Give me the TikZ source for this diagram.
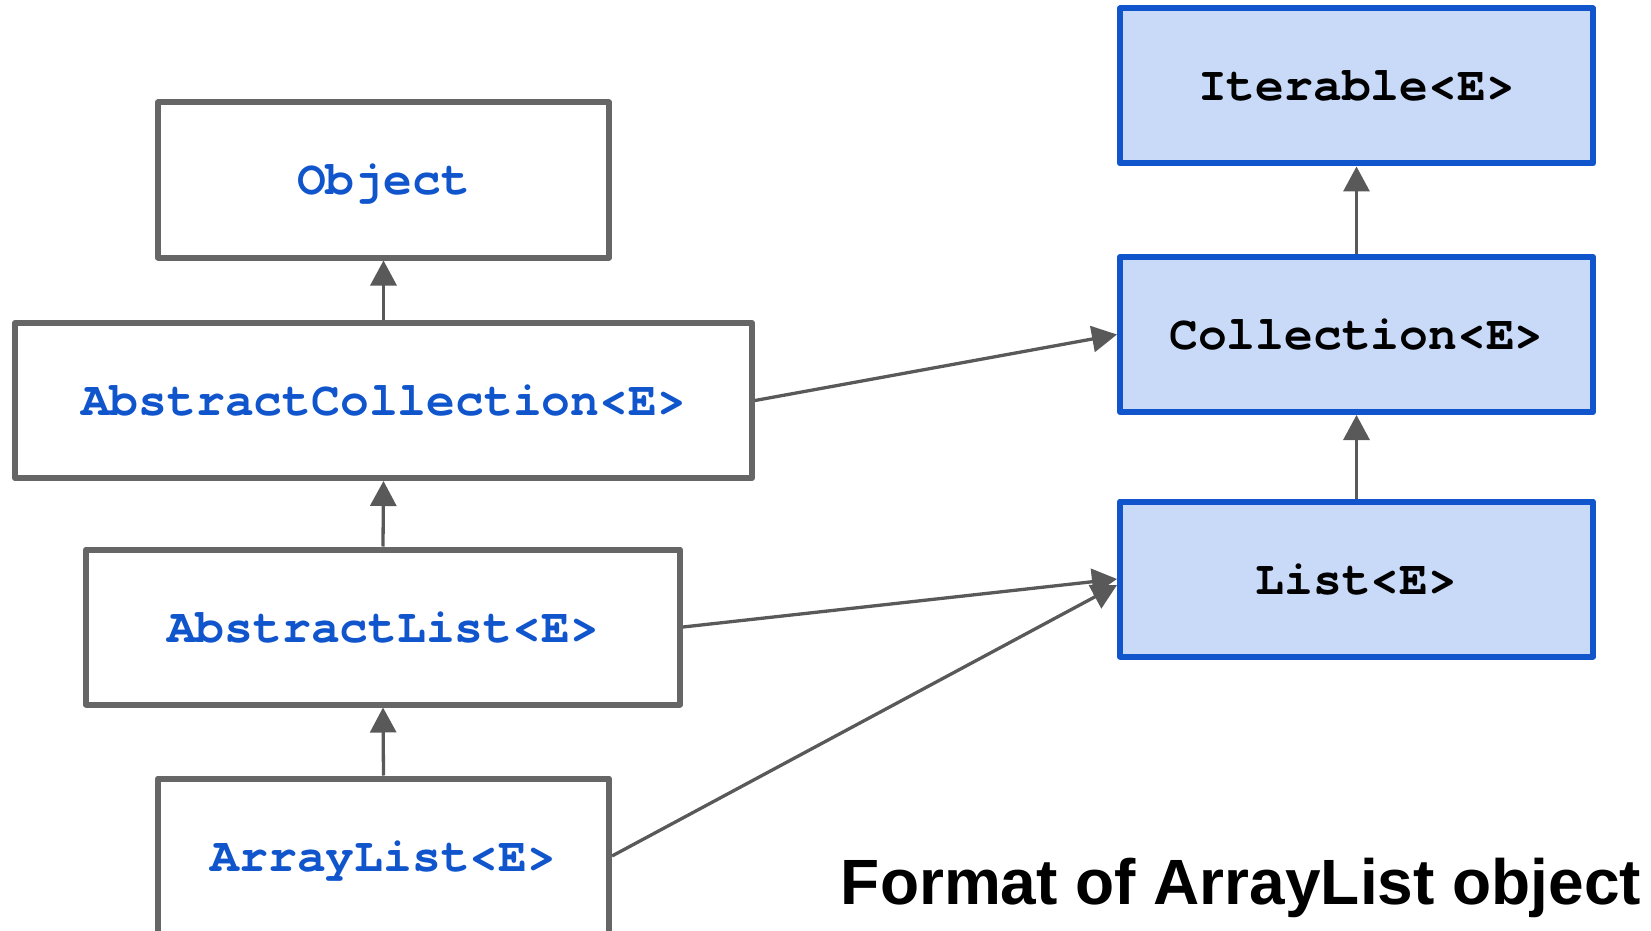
\documentclass[tikz,border=0pt]{standalone}
\usepackage{fontspec}
\setmainfont{Liberation Sans}
\newfontfamily\codefont{texgyrecursor}[Extension=.otf, UprightFont=*-regular, BoldFont=*-bold]
\usetikzlibrary{arrows.meta}
\definecolor{javablue}{HTML}{1155CC}
\definecolor{boxgray}{HTML}{666666}
\definecolor{arrowgray}{HTML}{595959}
\definecolor{ifacefill}{HTML}{C9DAF8}
\tikzset{
  boxbase/.style={line width=3pt, line join=round, rectangle,
    font=\codefont\bfseries\fontsize{24}{28}\selectfont,
    text height=15pt, text depth=0pt, minimum height=77.5pt, inner sep=0pt},
  classbox/.style={boxbase, draw=boxgray, fill=white, text=javablue},
  ifacebox/.style={boxbase, draw=javablue, fill=ifacefill, text=black,
    minimum width=236.5pt},
  extends/.style={draw=arrowgray, line width=1.65pt,
    -{Triangle[length=12.5pt,width=13pt,fill=arrowgray]}},
  caption/.style={font=\bfseries\fontsize{32}{36}\selectfont, text=black, inner sep=0pt}
}
\begin{document}
\begin{tikzpicture}[x=0.5pt, y=-0.5pt]
  \useasboundingbox (0,0) rectangle (1651,931);
  % class hierarchy (left column)
  \node[classbox, minimum width=225.5pt] (object) at (383.5,180) {Object};
  \node[classbox, minimum width=368.5pt] (abscoll) at (383.5,400.5) {AbstractCollection<E>};
  \node[classbox, minimum width=297pt] (abslist) at (383,627) {AbstractList<E>};
  \node[classbox, minimum width=225.5pt] (arraylist) at (383.5,856) {ArrayList<E>};
  % interfaces (right column)
  \node[ifacebox] (iterable) at (1356.5,86) {Iterable<E>};
  \node[ifacebox] (collection) at (1356.5,334.5) {Collection<E>};
  \node[ifacebox] (list) at (1356.5,579) {List<E>};
  % caption
  \node[caption] (title) at (1241,888) {Format of ArrayList object};
  % inheritance arrows
  \draw[extends] (abscoll.north) -- (object.south);
  \draw[extends] (abslist.north) -- (abscoll.south);
  \draw[extends] (arraylist.north) -- (abslist.south);
  \draw[extends] (collection.north) -- (iterable.south);
  \draw[extends] (list.north) -- (collection.south);
  % implementation arrows
  \draw[extends] (abscoll.east) -- (collection.west);
  \draw[extends] (abslist.east) -- (list.west);
  \draw[extends] (arraylist.east) -- ([yshift=-3pt]list.west);
\end{tikzpicture}
\end{document}
